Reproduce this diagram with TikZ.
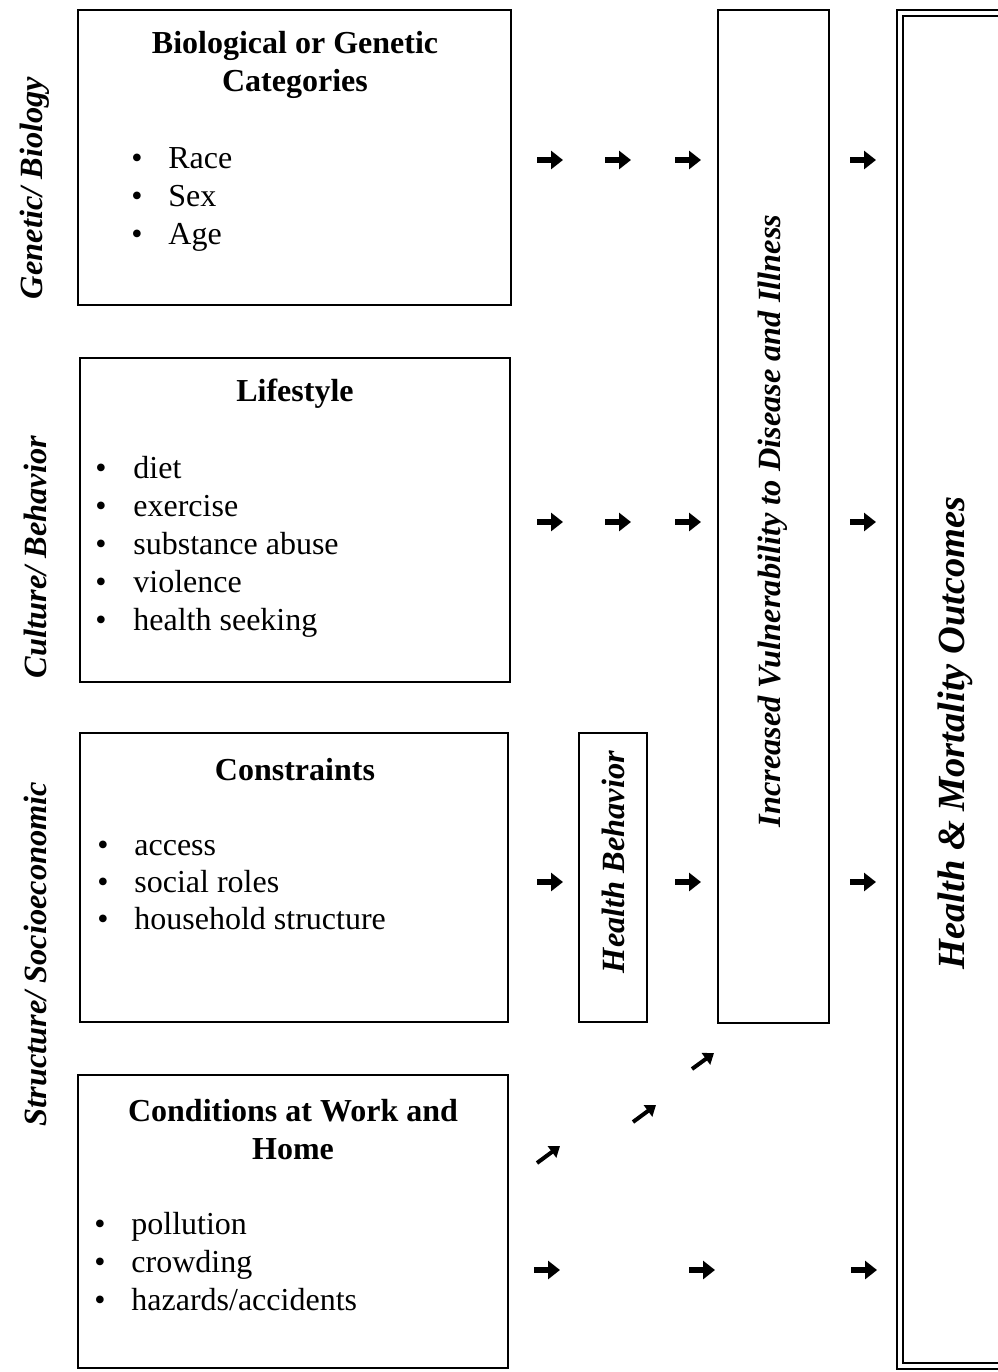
\documentclass[tikz,border=0pt]{standalone}
\usepackage{fontspec}
\setmainfont{Liberation Serif}
\usetikzlibrary{arrows.meta}
\begin{document}
\begin{tikzpicture}[x=0.5pt,y=-0.5pt,
  box/.style={draw,line width=1.2pt,inner sep=0pt},
  title/.style={font=\fontsize{16}{19}\selectfont\bfseries,align=center},
  item/.style={font=\fontsize{16}{19}\selectfont,anchor=base west,inner sep=0pt},
  side/.style={font=\fontsize{16.2}{19}\selectfont\bfseries\itshape,rotate=90},
  arr/.style={line width=2.8pt,-{Triangle[length=6pt,width=9pt]}},
  darr/.style={line width=2pt,-{Triangle[length=5pt,width=7pt]}}]
  \def \half {13}
  \def \drop {10}

  \useasboundingbox (0,0) rectangle (997,1372);

  % side labels
  \node[side] (gen) at (35,188) {Genetic/ Biology};
  \node[side] (cult) at (35,557) {Culture/ Behavior};
  \node[side] (struct) at (35,954) {Structure/ Socioeconomic};

  % boxes
  \node[box,minimum width=216.5pt,minimum height=147.5pt] (bio) at (294.5,157.5) {};
  \node[box,minimum width=215pt,minimum height=162pt] (life) at (295,520) {};
  \node[box,minimum width=214pt,minimum height=144.5pt] (cons) at (294,877.5) {};
  \node[box,minimum width=215pt,minimum height=146.5pt] (cond) at (293,1221.5) {};
  \node[box,minimum width=34pt,minimum height=144.5pt] (behav) at (613,877.5) {};
  \node[box,minimum width=55.5pt,minimum height=506.5pt] (vuln) at (773.5,516.5) {};
  \draw[line width=1pt,double,double distance=2pt] (900,13) rectangle (1030,1366);

  % titles
  \node[title] (bio-t) at (295,65) {Biological or Genetic\\Categories};
  \node[title] (life-t) at (295,394) {Lifestyle};
  \node[title] (cons-t) at (295,770) {Constraints};
  \node[title] (cond-t) at (293,1130) {Conditions at Work and\\Home};

  % bullet lists
  \foreach \t [count=\i from 0] in {Race,Sex,Age}{
    \node[item] (bio-b\i) at (131,158+\drop+38*\i) {\textbullet};
    \node[item] (bio-\i) at (168,158+\drop+38*\i) {\t};
  }
  \foreach \t [count=\i from 0] in {diet,exercise,substance abuse,violence,health seeking}{
    \node[item] (life-b\i) at (95,468+\drop+38*\i) {\textbullet};
    \node[item] (life-\i) at (133,468+\drop+38*\i) {\t};
  }
  \foreach \t [count=\i from 0] in {access,social roles,household structure}{
    \node[item] (cons-b\i) at (97,845+\drop+37*\i) {\textbullet};
    \node[item] (cons-\i) at (134,845+\drop+37*\i) {\t};
  }
  \foreach \t [count=\i from 0] in {pollution,crowding,hazards/accidents}{
    \node[item] (cond-b\i) at (94,1224+\drop+38*\i) {\textbullet};
    \node[item] (cond-\i) at (131,1224+\drop+38*\i) {\t};
  }

  % vertical labels
  \node[side] (behav-t) at (613,862) {Health Behavior};
  \node[side] (vuln-t) at (773,521) {Increased Vulnerability to Disease and Illness};
  \node[side,font=\fontsize{19.2}{22}\selectfont\bfseries\itshape] (out-t) at (955,733) {Health \& Mortality Outcomes};

  % arrows
  \foreach \y in {160,522}{
    \foreach \x in {550,618,688,863}{
      \draw[arr] (\x-\half,\y) -- (\x+\half,\y);
    }
  }
  \foreach \x in {550,688,863}{
    \draw[arr] (\x-\half,882) -- (\x+\half,882);
  }
  \foreach \x in {547,702,864}{
    \draw[arr] (\x-\half,1270) -- (\x+\half,1270);
  }
  \draw[darr] (537,1163) -- (560,1146);
  \draw[darr] (633,1122) -- (656,1105);
  \draw[darr] (692,1069) -- (714,1053);
\end{tikzpicture}
\end{document}
